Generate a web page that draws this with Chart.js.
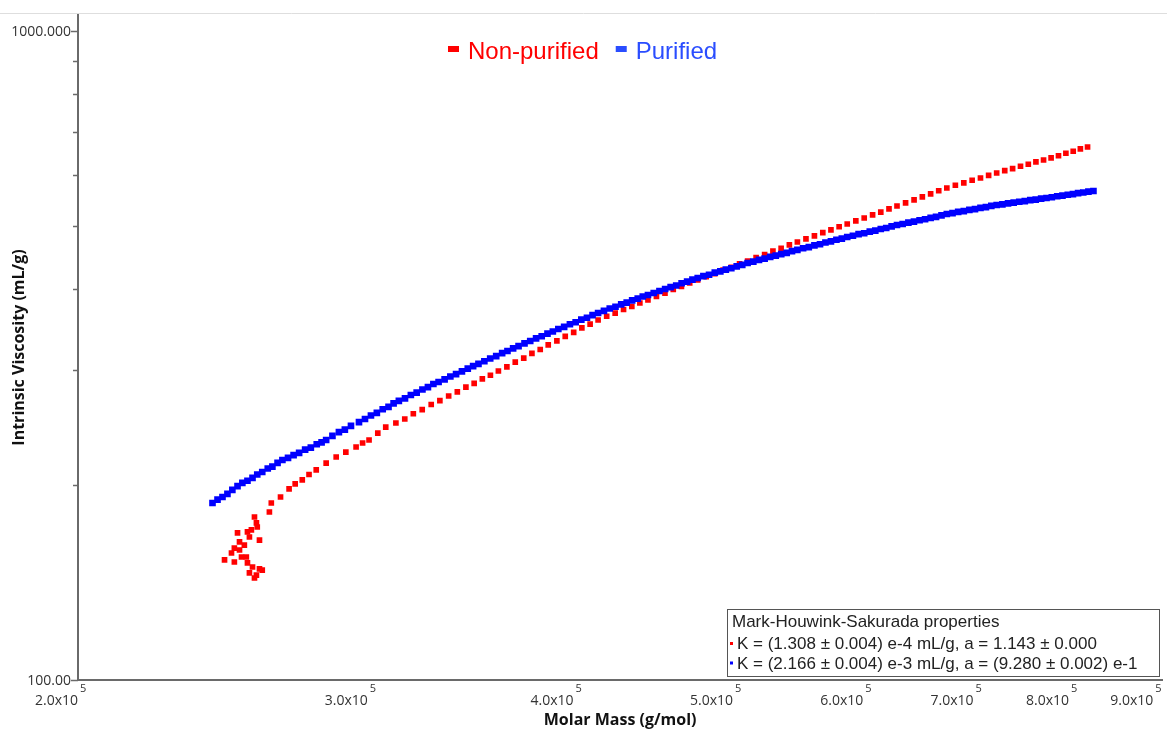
<!DOCTYPE html>
<html><head><meta charset="utf-8">
<script src="https://cdn.jsdelivr.net/npm/chart.js@4/dist/chart.umd.min.js"></script>
<style>html,body{margin:0;padding:0;background:#fff;overflow:hidden}</style>
</head><body>
<canvas id="c" width="1167" height="731"></canvas>
<script>
// Molar mass in kg/mol (10^3 g/mol), intrinsic viscosity in mL/g
const nonPurifiedMass = [
261.4,262.1,265.5,268.7,271.0,273.7,276.3,279.1,283.0,287.0,290.9,295.1,297.8,300.5,304.2,307.6,312.0,
315.9,319.7,323.7,327.8,331.8,335.9,
340.0,344.1,348.1,352.1,356.1,360.1,
364.4,368.7,373.1,377.4,381.8,386.1,
390.8,395.4,400.1,404.7,409.4,414.0,
419.0,424.0,429.0,434.0,438.9,443.9,
449.2,454.6,459.9,465.2,470.6,475.9,
481.6,487.4,493.1,498.8,504.6,510.3,
516.4,522.6,528.7,534.8,541.0,547.1,
553.7,560.3,566.9,573.4,580.0,586.6,
593.7,600.7,607.8,614.8,621.9,628.9,
636.5,644.1,651.6,659.2,666.7,674.3,
682.4,690.5,698.6,706.8,714.9,723.0,
731.2,739.3,747.5,755.7,763.8,772.0,
780.2,788.3,796.5,804.7,812.8,821.0,
256.0,256.7,257.0,254.9,253.5,250.0,254.2,257.8,250.7,252.4,248.9,250.7,
247.9,251.4,253.1,245.5,248.9,253.5,255.3,257.8,258.8,254.2,256.7,256.0
];
const nonPurifiedVisc = [
181.5,187.4,191.4,197.0,200.5,203.4,207.3,210.7,215.9,220.6,224.5,228.6,231.8,234.3,240.1,245.3,248.9,
252.4,257.2,261.0,265.8,269.4,273.9,
277.9,282.6,286.4,291.1,294.8,299.3,
303.8,308.8,313.3,318.6,323.0,328.3,
333.1,338.5,343.2,348.8,353.5,358.7,
363.5,367.6,372.3,376.3,381.0,385.1,
390.1,394.5,399.6,403.9,409.0,413.4,
418.4,422.8,428.0,432.4,437.6,442.2,
447.6,452.3,457.9,462.5,468.1,473.0,
478.4,483.4,488.9,493.8,499.4,504.2,
509.9,515.0,520.8,525.9,532.1,537.5,
543.5,549.2,555.3,561.0,567.4,572.9,
578.6,583.4,588.9,593.6,599.1,604.2,
609.3,613.6,618.8,623.2,628.4,632.7,
637.7,642.4,648.0,652.6,658.4,662.6,
178.3,174.6,172.1,170.3,169.1,168.5,166.1,164.3,163.2,161.4,159.7,158.6,
156.9,154.7,154.7,153.1,152.0,151.5,149.3,148.3,147.7,146.2,145.1,143.6
];
const purifiedMass = [
241.4,243.1,244.8,246.5,248.2,250.0,251.7,253.5,255.3,257.0,258.8,
260.8,262.5,264.4,266.2,
268.3,270.4,272.5,
274.8,277.0,279.3,281.2,283.0,
285.5,288.1,
290.5,293.0,296.3,
298.8,301.3,303.8,306.3,308.8,311.0,313.3,
316.0,318.6,321.2,323.8,326.3,328.8,331.2,
334.0,336.7,339.4,342.2,345.0,347.6,350.2,
353.1,356.0,359.0,362.0,364.7,367.6,370.4,
373.5,376.5,379.6,382.6,385.7,388.6,391.6,
394.8,398.0,401.2,404.4,407.6,410.8,414.0,
417.4,420.8,424.2,427.6,430.9,434.2,437.6,440.7,443.9,
447.5,451.1,454.7,458.2,461.8,465.3,468.9,472.4,475.9,
479.7,483.5,487.4,491.2,495.0,498.8,502.6,506.5,510.3,
514.4,518.5,522.6,526.7,530.8,534.9,539.0,543.0,547.1,
551.5,555.9,560.3,564.7,569.0,573.4,577.8,582.2,586.6,
591.3,596.0,600.7,605.4,610.1,614.8,619.5,624.2,628.9,
633.9,639.0,644.0,649.1,654.1,659.2,664.2,669.3,674.3,
679.7,685.1,690.5,695.9,701.4,706.8,712.2,717.6,723.0,
728.8,734.6,740.4,746.2,752.0,757.8,763.6,769.4,775.2,
781.0,786.9,792.7,798.6,804.4,810.2,816.1,822.0,827.8
];
const purifiedVisc = [
187.4,189.6,191.4,193.5,196.3,198.9,201.2,202.8,204.8,207.3,209.2,
211.8,213.2,216.0,218.3,
219.9,222.1,223.8,
226.5,228.1,230.8,232.4,234.3,
237.8,241.0,
243.1,246.4,249.7,
252.4,255.6,258.0,261.3,263.6,266.8,269.2,
271.6,274.9,277.2,280.3,282.6,285.8,287.9,
290.6,293.5,296.0,298.9,301.8,304.6,306.9,
309.8,312.9,315.6,318.9,321.3,324.4,327.0,
330.2,332.9,336.1,338.6,341.8,344.3,347.4,
350.0,353.3,355.8,359.1,361.6,364.9,367.7,
370.4,373.6,376.0,379.2,381.5,384.6,387.0,389.9,392.0,
394.8,397.6,400.4,403.1,405.4,408.6,411.0,413.9,416.3,
419.0,421.2,424.3,426.1,428.9,431.0,433.8,436.2,439.1,
441.2,443.9,446.0,448.7,450.6,453.2,455.1,457.9,459.9,
462.6,464.6,467.3,469.2,472.1,474.0,476.8,478.7,481.5,
483.6,486.3,488.0,490.8,492.6,495.3,497.1,499.9,502.5,
504.3,506.8,508.6,511.0,512.8,515.3,517.1,519.8,522.4,
524.0,526.3,527.8,530.1,531.6,533.9,535.4,537.8,539.4,
540.7,542.6,543.8,545.6,546.8,548.7,549.9,551.8,553.0,
554.5,556.3,557.6,559.4,560.7,562.6,563.9,565.6,566.9
];

const seriesNames = ['Non-purified', 'Purified'];
const seriesColors = ['#ff0000', '#0000ff'];
const legendTextColors = ['#ff0000', '#2a4dff'];

const xTickValues = [2.0e5, 3.0e5, 4.0e5, 5.0e5, 6.0e5, 7.0e5, 8.0e5, 9.0e5];
const xTickLabels = ['2.0x10', '3.0x10', '4.0x10', '5.0x10', '6.0x10', '7.0x10', '8.0x10', '9.0x10'];
const xTickExponent = '5';
const yMajorValues = [100, 1000];
const yMajorLabels = ['100.00', '1000.000'];
const yMinorValues = [200, 300, 400, 500, 600, 700, 800, 900];

const xTitle = 'Molar Mass (g/mol)';
const yTitle = 'Intrinsic Viscosity (mL/g)';
const mhsTitle = 'Mark-Houwink-Sakurada properties';
const mhsLines = [
  'K = (1.308 \u00b1 0.004) e-4 mL/g, a = 1.143 \u00b1 0.000',
  'K = (2.166 \u00b1 0.004) e-3 mL/g, a = (9.280 \u00b1 0.002) e-1'
];

const toPoints = (ms, vs) => ms.map((m, i) => ({ x: m * 1000, y: vs[i] }));

const axisColor = '#6a6a6a';

const decor = {
  id: 'decor',
  afterDraw(chart) {
    const { ctx, chartArea: a, scales: { x, y } } = chart;
    ctx.save();
    // top rule
    ctx.strokeStyle = '#dedede'; ctx.lineWidth = 1;
    ctx.beginPath(); ctx.moveTo(0, 13.5); ctx.lineTo(1167, 13.5); ctx.stroke();

    // y tick marks
    ctx.strokeStyle = axisColor; ctx.lineWidth = 1.5;
    yMinorValues.forEach(v => {
      const py = Math.round(y.getPixelForValue(v)) + 0.5;
      ctx.beginPath(); ctx.moveTo(a.left - 5, py); ctx.lineTo(a.left, py); ctx.stroke();
    });
    yMajorValues.forEach(v => {
      const py = Math.round(y.getPixelForValue(v)) + 0.5;
      ctx.beginPath(); ctx.moveTo(a.left - 7, py); ctx.lineTo(a.left, py); ctx.stroke();
    });
    // y labels
    ctx.fillStyle = '#333';
    ctx.font = '14px "Open Sans"';
    ctx.textAlign = 'right'; ctx.textBaseline = 'middle';
    yMajorValues.forEach((v, i) => ctx.fillText(yMajorLabels[i], a.left - 7, y.getPixelForValue(v) + 1));

    // x labels with superscript exponent
    xTickValues.forEach((v, i) => {
      const px = x.getPixelForValue(v);
      ctx.font = '14px "Open Sans"';
      ctx.textAlign = 'right'; ctx.textBaseline = 'alphabetic';
      ctx.fillText(xTickLabels[i], px, 705);
      ctx.font = '11px "Open Sans"';
      ctx.textAlign = 'left';
      ctx.fillText(xTickExponent, px + 2, 692);
    });

    // axis titles
    ctx.fillStyle = '#111';
    ctx.font = 'bold 16px "Open Sans"';
    ctx.textAlign = 'center'; ctx.textBaseline = 'middle';
    ctx.fillText(xTitle, (a.left + a.right) / 2, 720);
    ctx.save();
    ctx.translate(19, (a.top + a.bottom) / 2);
    ctx.rotate(-Math.PI / 2);
    ctx.fillText(yTitle, 0, 0);
    ctx.restore();

    // top legend
    ctx.font = '24px "Liberation Sans", Arial, sans-serif';
    ctx.textAlign = 'left'; ctx.textBaseline = 'alphabetic';
    let lx = 448;
    seriesNames.forEach((name, i) => {
      ctx.fillStyle = legendTextColors[i];
      ctx.fillRect(lx, 46, 11, 6);
      ctx.fillText(name, lx + 20, 59);
      lx += 20 + ctx.measureText(name).width + 17;
    });

    // MHS box
    const bx = 727.5, by = 609.5, bw = 432, bh = 67;
    ctx.fillStyle = '#fff';
    ctx.fillRect(bx, by, bw, bh);
    ctx.strokeStyle = '#555'; ctx.lineWidth = 1;
    ctx.strokeRect(bx, by, bw, bh);
    ctx.fillStyle = '#222';
    ctx.font = '17px "Liberation Sans", Arial, sans-serif';
    ctx.fillText(mhsTitle, 732, 627);
    mhsLines.forEach((t, i) => {
      const ly = 649 + i * 19.5;
      ctx.fillStyle = seriesColors[i];
      ctx.fillRect(730, ly - 7, 3, 3);
      ctx.fillStyle = '#222';
      ctx.fillText(t, 737, ly);
    });
    ctx.restore();
  }
};

new Chart(document.getElementById('c').getContext('2d'), {
  type: 'scatter',
  data: {
    datasets: [
      { label: seriesNames[1], data: toPoints(purifiedMass, purifiedVisc),
        backgroundColor: seriesColors[1], borderWidth: 0, pointStyle: 'rect',
        pointRadius: 4.7, pointHoverRadius: 4.7 },
      { label: seriesNames[0], data: toPoints(nonPurifiedMass, nonPurifiedVisc),
        backgroundColor: seriesColors[0], borderWidth: 0, pointStyle: 'rect',
        pointRadius: 4.0, pointHoverRadius: 4.0 }
    ]
  },
  options: {
    responsive: false, animation: false, devicePixelRatio: 1,
    events: [],
    layout: { padding: { left: 68, top: 15, right: 1, bottom: 41 } },
    plugins: { legend: { display: false }, tooltip: { enabled: false } },
    scales: {
      x: {
        type: 'logarithmic', min: 2.0e5, max: 9.115e5,
        grid: { display: false },
        border: { display: true, color: axisColor, width: 2 },
        ticks: { display: false },
        afterBuildTicks: s => { s.ticks = xTickValues.map(v => ({ value: v })); },
        afterFit: s => { s.height = 10; }
      },
      y: {
        type: 'logarithmic', min: 100, max: 1058.4, position: 'left',
        grid: { display: false },
        border: { display: true, color: axisColor, width: 2 },
        ticks: { display: false },
        afterBuildTicks: s => { s.ticks = yMajorValues.concat(yMinorValues).map(v => ({ value: v })); },
        afterFit: s => { s.width = 10; }
      }
    }
  },
  plugins: [decor]
});
</script>
</body></html>
